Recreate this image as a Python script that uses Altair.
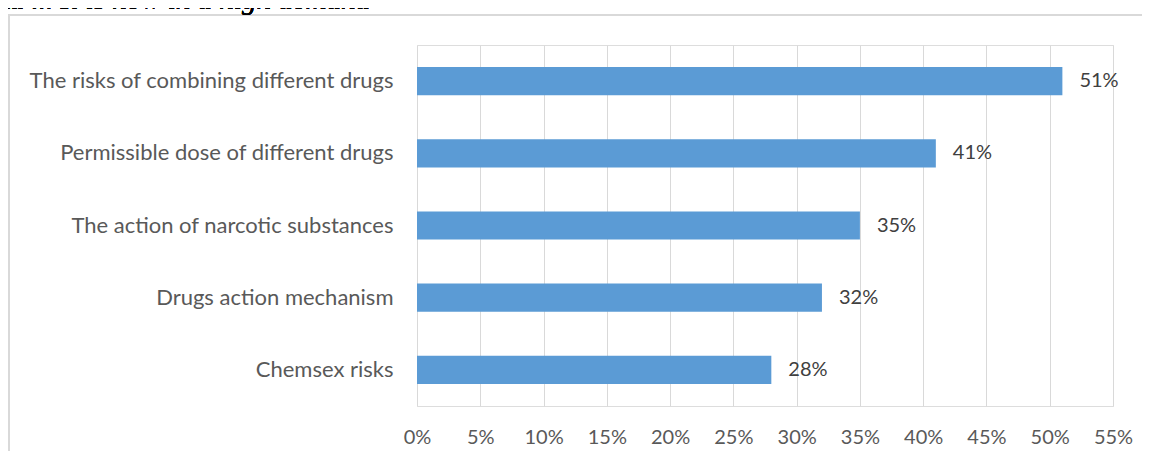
import altair as alt
import pandas as pd

categories = [
    "The risks of combining different drugs",
    "Permissible dose of different drugs",
    "The action of narcotic substances",
    "Drugs action mechanism",
    "Chemsex risks",
]
values = [0.51, 0.41, 0.35, 0.32, 0.28]
x_ticks = [0, 0.05, 0.10, 0.15, 0.20, 0.25, 0.30, 0.35, 0.40, 0.45, 0.50, 0.55]
top_text = "ka ... It is now in a high demand \u00bb"

df = pd.DataFrame({"cat": categories, "val": values})

FONT = "Lato"
GRAY = "#595959"
PLOT_W = 696
PLOT_H = 361
PAD_L = 409
PAD_T = 37
TOTAL_W = 1134
TOTAL_H = 443

y_enc = alt.Y(
    "cat:N",
    sort=categories,
    scale=alt.Scale(paddingInner=0.61, paddingOuter=0.305),
    axis=alt.Axis(
        title=None, ticks=False, domain=False, labelPadding=24,
        labelFont=FONT, labelFontSize=22, labelColor=GRAY, labelLimit=420,
    ),
)
x_enc = alt.X(
    "val:Q",
    scale=alt.Scale(domain=[0, 0.55], nice=False),
    axis=alt.Axis(
        title=None, values=x_ticks, format=".0%", ticks=False, domain=False,
        grid=True, gridColor="#D9D9D9", gridWidth=1,
        labelPadding=21, labelFont=FONT, labelFontSize=20, labelColor=GRAY,
        labelFlush=False,
    ),
)

frame = alt.Chart(df).mark_rect(
    fill="transparent", stroke="#D9D9D9", strokeWidth=2
).encode(
    x=alt.value(-PAD_L + 1), x2=alt.value(900),
    y=alt.value(-PAD_T + 7), y2=alt.value(600),
)

heading = alt.Chart(df).mark_text(
    text=top_text, font="Liberation Serif", fontStyle="italic", fontSize=29,
    color="#000000", align="left", baseline="alphabetic",
).encode(x=alt.value(-PAD_L - 11), y=alt.value(-PAD_T + 1))

bars = alt.Chart(df).mark_bar(color="#5B9BD5").encode(x=x_enc, y=y_enc)

labels = alt.Chart(df).mark_text(
    align="left", baseline="middle", dx=17, font=FONT, fontSize=20, color="#404040",
).encode(
    x="val:Q", y=alt.Y("cat:N", sort=categories),
    text=alt.Text("val:Q", format=".0%"),
)

chart = alt.layer(frame, bars, labels, heading).properties(
    width=PLOT_W, height=PLOT_H,
    autosize=alt.AutoSizeParams(type="none"),
    padding={"left": PAD_L, "top": PAD_T,
             "right": TOTAL_W - PAD_L - PLOT_W, "bottom": TOTAL_H - PAD_T - PLOT_H},
).configure_view(stroke=None).configure(background="white")

chart.save("out.html", embed_options={"renderer": "svg", "actions": False})
